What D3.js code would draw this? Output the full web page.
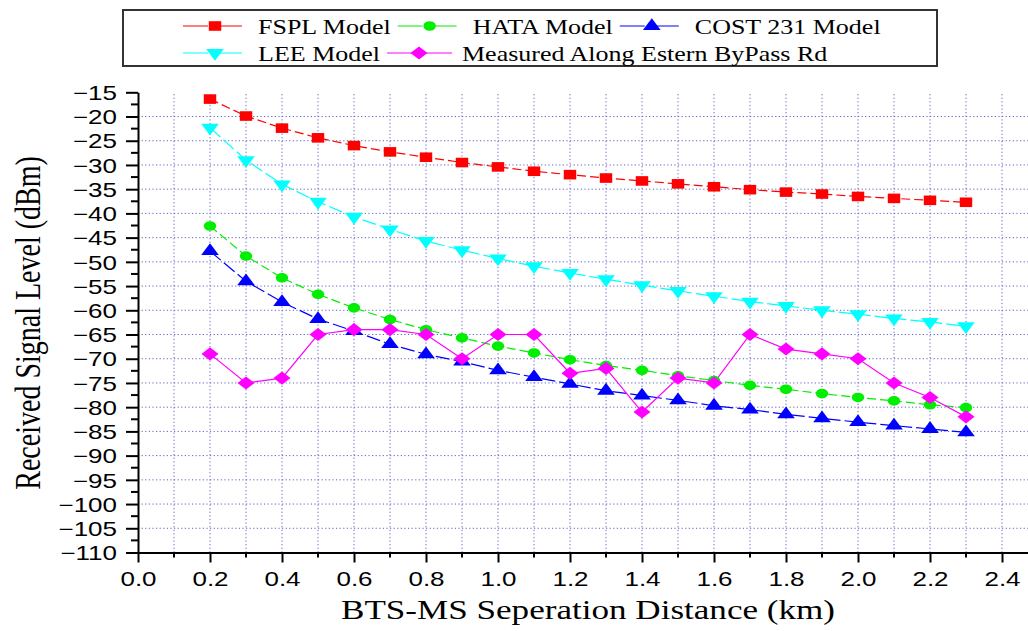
<!DOCTYPE html>
<html>
<head>
<meta charset="utf-8">
<script src="https://cdn.jsdelivr.net/npm/d3@7"></script>
<style>
body{margin:0;background:#fff;}
</style>
</head>
<body>
<svg id="chart" width="1028" height="631"></svg>
<script>
// distances in km
var distance = [0.2, 0.3, 0.4, 0.5, 0.6, 0.7, 0.8, 0.9, 1.0, 1.1, 1.2,
                1.3, 1.4, 1.5, 1.6, 1.7, 1.8, 1.9, 2.0, 2.1, 2.2, 2.3];

// received signal level (dBm)
var fspl = [-16.4, -19.9, -22.4, -24.4, -26.0, -27.3, -28.4, -29.5, -30.4, -31.3, -32.0,
            -32.7, -33.3, -33.9, -34.5, -35.1, -35.6, -36.0, -36.5, -36.9, -37.3, -37.7];
var hata = [-42.6, -48.8, -53.3, -56.7, -59.5, -61.9, -64.0, -65.7, -67.4, -68.8, -70.2,
            -71.4, -72.4, -73.5, -74.5, -75.5, -76.3, -77.2, -78.0, -78.7, -79.5, -80.1];
var cost231 = [-47.8, -54.0, -58.3, -61.8, -64.3, -67.0, -69.1, -70.6, -72.4, -73.8, -75.2,
               -76.6, -77.6, -78.6, -79.7, -80.5, -81.5, -82.3, -83.1, -83.8, -84.5, -85.2];
var lee = [-22.3, -29.0, -34.0, -37.6, -40.7, -43.3, -45.7, -47.6, -49.3, -50.9, -52.3,
           -53.6, -54.8, -56.0, -57.1, -58.2, -59.1, -60.0, -60.8, -61.7, -62.4, -63.3];
var measured = [-69, -75, -74, -65, -64, -64, -65, -70, -65, -65, -73,
                -72, -81, -74, -75, -65, -68, -69, -70, -75, -78, -82];

var seriesNames = ["FSPL Model", "HATA Model", "COST 231 Model", "LEE Model", "Measured Along Estern ByPass Rd"];

// tick labels
var xTicks = [0.0, 0.2, 0.4, 0.6, 0.8, 1.0, 1.2, 1.4, 1.6, 1.8, 2.0, 2.2, 2.4];
var yTicks = [-110, -105, -100, -95, -90, -85, -80, -75, -70, -65, -60,
              -55, -50, -45, -40, -35, -30, -25, -20, -15];

var stretch = 1.3;	// the picture is wider than tall, text is squashed sideways
var serif = "'Liberation Serif', 'Times New Roman', Times, serif";
var sans = "'Liberation Sans', Arial, Helvetica, sans-serif";

var svg = d3.select("#chart");

var x = d3.scaleLinear().domain([0, 2.5]).range([138, 1038]);
var y = d3.scaleLinear().domain([-110, -15]).range([552.5, 92.3]);

var series = [
	{name: seriesNames[0], values: fspl, color: "#ff0000", symbol: "square", dash: "9,4"},
	{name: seriesNames[1], values: hata, color: "#00ee00", symbol: "circle", dash: "9,4"},
	{name: seriesNames[2], values: cost231, color: "#0000ff", symbol: "up", dash: "14,4"},
	{name: seriesNames[3], values: lee, color: "#00ffff", symbol: "down", dash: "14,4"},
	{name: seriesNames[4], values: measured, color: "#ff00ff", symbol: "diamond", dash: null}
];

function symbolPath(kind){
	if(kind == "square") return d3.symbol(d3.symbolSquare, 92)();
	if(kind == "circle") return d3.symbol(d3.symbolCircle, 72)();
	if(kind == "diamond") return d3.symbol(d3.symbolSquare, 86)();
	return d3.symbol(d3.symbolTriangle, 80)();
}
function symbolTransform(kind, cx, cy){
	var t = "translate(" + cx + "," + cy + ") scale(" + stretch + ",1)";
	if(kind == "diamond") t += " rotate(45)";
	if(kind == "down") t += " rotate(180)";
	return t;
}

// grid
var grid = svg.append("g").attr("class", "grid")
	.attr("stroke", "#2020b0").attr("stroke-width", 1)
	.attr("stroke-dasharray", "1.2,2.4").attr("opacity", 0.7);

grid.selectAll("line.v")
  .data(d3.range(1, 25).map(function(d){ return d / 10; }))
  .enter().append("line")
  .attr("x1", function(d){ return x(d); })
  .attr("x2", function(d){ return x(d); })
  .attr("y1", y(-110)).attr("y2", y(-15));

grid.selectAll("line.h")
  .data(yTicks.filter(function(d){ return d > -110 && d < -15; }))
  .enter().append("line")
  .attr("x1", x(0)).attr("x2", 1028)
  .attr("y1", function(d){ return y(d); })
  .attr("y2", function(d){ return y(d); });

// lines
var line = d3.line()
  .x(function(d, i){ return x(distance[i]); })
  .y(function(d){ return y(d); });

svg.selectAll("path.series")
  .data(series)
  .enter().append("path")
  .attr("class", "series")
  .attr("fill", "none")
  .attr("stroke", function(d){ return d.color; })
  .attr("stroke-width", 1.2)
  .attr("stroke-dasharray", function(d){ return d.dash; })
  .attr("d", function(d){ return line(d.values); });

// markers
series.forEach(function(s){
	svg.append("g").selectAll("path")
	  .data(s.values)
	  .enter().append("path")
	  .attr("d", symbolPath(s.symbol))
	  .attr("fill", s.color)
	  .attr("transform", function(d, i){
			return symbolTransform(s.symbol, x(distance[i]), y(d));
		});
});

// axes
var xAxis = svg.append("g")
  .attr("transform", "translate(0," + y(-110) + ")")
  .call(d3.axisBottom(x).tickValues(xTicks).tickSize(10).tickSizeOuter(0).tickFormat(d3.format(".1f")));
xAxis.append("g").selectAll("line")
  .data(d3.range(1, 25, 2).map(function(d){ return d / 10; }))
  .enter().append("line")
  .attr("x1", function(d){ return x(d); })
  .attr("x2", function(d){ return x(d); })
  .attr("y1", 0).attr("y2", 5)
  .attr("stroke", "#000").attr("stroke-width", 2);

var yAxis = svg.append("g")
  .attr("transform", "translate(" + x(0) + ",0)")
  .call(d3.axisLeft(y).tickValues(yTicks).tickSize(12).tickSizeOuter(0));
yAxis.append("g").selectAll("line")
  .data(d3.range(-107.5, -15, 5))
  .enter().append("line")
  .attr("x1", -7).attr("x2", 0)
  .attr("y1", function(d){ return y(d); })
  .attr("y2", function(d){ return y(d); })
  .attr("stroke", "#000").attr("stroke-width", 2);

svg.selectAll(".domain").attr("stroke", "#000").attr("stroke-width", 2);
svg.selectAll(".tick line").attr("stroke", "#000").attr("stroke-width", 2);

xAxis.selectAll(".tick text")
  .attr("y", 0).attr("dy", null)
  .attr("transform", "translate(0,33) scale(" + stretch + ",1)")
  .attr("font-family", sans)
  .attr("font-size", 20).attr("fill", "#000");

yAxis.selectAll(".tick text")
  .attr("x", 0).attr("dy", "0.36em")
  .attr("transform", "translate(-21,0) scale(" + stretch + ",1)")
  .attr("font-family", sans)
  .attr("font-size", 20).attr("fill", "#000");

// axis titles
svg.append("text")
  .attr("transform", "translate(588,619) scale(" + stretch + ",1)")
  .attr("text-anchor", "middle")
  .attr("font-family", serif)
  .attr("font-size", 27)
  .text("BTS-MS Seperation Distance (km)");

svg.append("text")
  .attr("transform", "translate(40,323) scale(" + stretch + ",1) rotate(-90)")
  .attr("text-anchor", "middle")
  .attr("font-family", serif)
  .attr("font-size", 28)
  .text("Received Signal Level (dBm)");

// legend
var legend = svg.append("g");
legend.append("rect")
  .attr("x", 123).attr("y", 10)
  .attr("width", 814).attr("height", 56)
  .attr("fill", "#fff").attr("stroke", "#333").attr("stroke-width", 2);

var rows = [[0, 1, 2], [3, 4]];
rows.forEach(function(row, r){
	var cy = 26 + r * 27;
	var start = 183;
	row.forEach(function(k){
		var s = series[k];
		var item = legend.append("g");
		item.append("line")
		  .attr("x1", start).attr("x2", start + 65)
		  .attr("y1", cy).attr("y2", cy)
		  .attr("stroke", s.color).attr("stroke-width", 1.2)
		  .attr("stroke-dasharray", s.dash ? "25,9" : null);
		item.append("path")
		  .attr("d", symbolPath(s.symbol))
		  .attr("fill", s.color)
		  .attr("transform", symbolTransform(s.symbol, start + 32, cy));
		var txt = item.append("text")
		  .attr("transform", "translate(" + (start + 75) + "," + (cy + 8) + ") scale(" + stretch + ",1)")
		  .attr("font-family", serif)
		  .attr("font-size", 20)
		  .text(s.name);
		start = start + 75 + txt.node().getComputedTextLength() * stretch + 7;
	});
});
</script>
</body>
</html>
